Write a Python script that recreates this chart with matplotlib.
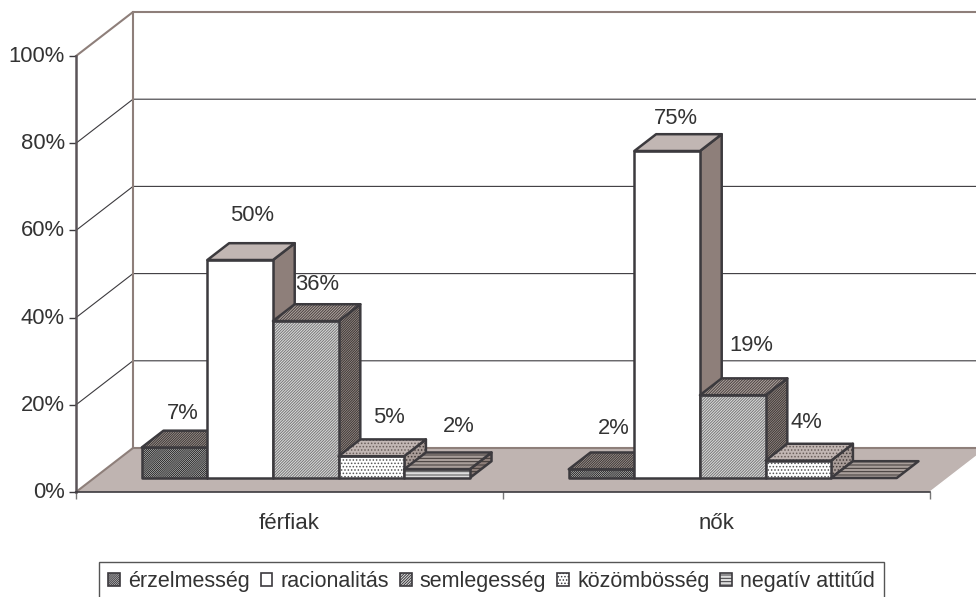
import numpy as np
import matplotlib
matplotlib.use('Agg')
import matplotlib.pyplot as plt
from matplotlib.patches import Patch, Polygon
from matplotlib.transforms import ScaledTranslation

categories = ['férfiak', 'nők']
series = ['érzelmesség', 'racionalitás', 'semlegesség', 'közömbösség', 'negatív attitűd']
values = [[7, 50, 36, 5, 2],
          [2, 75, 19, 4, 0]]
value_labels = [['7%', '50%', '36%', '5%', '2%'],
                ['2%', '75%', '19%', '4%', '']]
y_ticks = [0, 20, 40, 60, 80, 100]

# label nudges in pixels, from centre of the bar's top edge
label_dx = [[8, 12, 11, 18, 22], [12, 9, 19, 8, 0]]
label_dy = [[34, 45, 37, 39, 43], [41, 33, 50, 38, 0]]

dark = '#3c3a3e'
taupe = '#8e7f7a'
floor_col = '#bfb4b1'
text_col = '#333333'

# front, top, side: (face, hatch colour, hatch)
styles = [
    {'front': ('#e8e8e8', '#222222', '/' * 16), 'top': ('#a89e9a', '#3c3634', '/' * 14), 'side': ('#a89e9a', '#3c3634', '/' * 14)},
    {'front': ('white', 'white', None), 'top': ('#c1b6b3', '#c1b6b3', None), 'side': (taupe, taupe, None)},
    {'front': ('#dddddd', '#777777', '/' * 12), 'top': ('#b0a5a1', '#4a4240', '/' * 12), 'side': ('#a09490', '#3c3634', '/' * 14)},
    {'front': ('white', '#555555', '.....'), 'top': ('#c1b6b3', '#6a5f5b', '.....'), 'side': ('#a89c98', '#443c3a', '.....')},
    {'front': ('#dddddd', '#555555', '-----'), 'top': ('#a89e9a', '#3c3634', '-----'), 'side': ('#8e7f7a', '#3c3634', '-----')},
]

plt.rcParams['font.family'] = ['Liberation Sans', 'DejaVu Sans']
plt.rcParams['hatch.linewidth'] = 0.7

W, H = 976, 597
fig = plt.figure(figsize=(W / 100, H / 100), dpi=100)
ax = fig.add_axes([76 / W, 1 - 492 / H, 854 / W, 436 / H])
ax.patch.set_alpha(0)
ax.set_xlim(0, 2)
ax.set_ylim(0, 100)

dx = 57 / 427
dy = 44 / 4.36
bar_w = 65.6 / 427
bar_off = 0.1115
d0, d1 = 0.318, 0.70


def proj(x, y, d):
    return (x + d * dx, y + d * dy)


def face(pts, style, z):
    col, hcol, hatch = style
    ax.add_patch(Polygon(pts, closed=True, facecolor=col, edgecolor='none', zorder=z, clip_on=False))
    if hatch:
        ax.add_patch(Polygon(pts, closed=True, facecolor='none', edgecolor=hcol, hatch=hatch, lw=0, zorder=z, clip_on=False))
    ax.add_patch(Polygon(pts, closed=True, facecolor='none', edgecolor=dark, lw=1.8, joinstyle='round', zorder=z, clip_on=False))


# walls and floor
ax.add_patch(Polygon([(0, 0), (2, 0), proj(2, 0, 1), proj(0, 0, 1)], closed=True,
                     facecolor=floor_col, edgecolor='none', zorder=1, clip_on=False))
for v in y_ticks[1:-1]:
    ax.plot(*zip((0, v), proj(0, v, 1), proj(2, v, 1)), color=dark, lw=0.8, zorder=1, clip_on=False)
ax.plot(*zip((0, 100), proj(0, 100, 1), proj(2, 100, 1)), color=taupe, lw=1.5, zorder=1, clip_on=False)
ax.plot(*zip(proj(0, 100, 1), proj(0, 0, 1), proj(2, 0, 1)), color=taupe, lw=1.5, zorder=1, clip_on=False)
ax.plot(*zip((0, 0), proj(0, 0, 1)), color=taupe, lw=1.5, zorder=1, clip_on=False)
ax.plot(*zip((2, 0), proj(2, 0, 1)), color='white', lw=1.0, zorder=1, clip_on=False)

# bars, left to right so that each one covers the side of the previous one
for c, row in enumerate(values):
    for i, v in enumerate(row):
        x0 = c + bar_off + i * bar_w
        x1 = x0 + bar_w
        z = 3 + c * 10 + i
        st = styles[i]
        if v > 0:
            face([proj(x1, 0, d0), proj(x1, 0, d1), proj(x1, v, d1), proj(x1, v, d0)], st['side'], z)
            face([proj(x0, 0, d0), proj(x1, 0, d0), proj(x1, v, d0), proj(x0, v, d0)], st['front'], z)
        face([proj(x0, v, d0), proj(x1, v, d0), proj(x1, v, d1), proj(x0, v, d1)], st['top'], z)
        if value_labels[c][i]:
            ax.annotate(value_labels[c][i], proj(x0 + bar_w / 2, v, d0),
                        xytext=(label_dx[c][i], label_dy[c][i]), textcoords='offset pixels',
                        ha='center', va='center', fontsize=15.8, color=text_col, zorder=40,
                        annotation_clip=False)

# axes
for s in ['top', 'right']:
    ax.spines[s].set_visible(False)
ax.spines['left'].set_color('#5a5458')
ax.spines['left'].set_linewidth(1.8)
ax.spines['bottom'].set_color(dark)
ax.spines['bottom'].set_linewidth(1.2)
ax.spines['left'].set_zorder(2)
ax.spines['bottom'].set_zorder(2)

ax.set_yticks(y_ticks)
ax.set_yticklabels([f'{v}%' for v in y_ticks], fontsize=15.8, color=text_col)
ax.tick_params(axis='y', length=5, width=1, color=dark, pad=3)
shift = ScaledTranslation(0, 1.5 / 72, fig.dpi_scale_trans)
for lab in ax.get_yticklabels():
    lab.set_transform(lab.get_transform() + shift)

ax.set_xticks(range(len(categories) + 1))
ax.set_xticklabels([])
ax.tick_params(axis='x', which='major', length=5, width=1, color='#777777')
ax.set_xticks([c + 0.5 for c in range(len(categories))], minor=True)
ax.set_xticklabels(categories, minor=True, fontsize=16, color=text_col)
ax.tick_params(axis='x', which='minor', length=0, pad=15)

# legend
handles = [Patch(facecolor=styles[i]['front'][0], edgecolor=dark, hatch=styles[i]['front'][2],
                 lw=1.2, label=series[i]) for i in range(len(series))]
leg = fig.legend(handles=handles, ncol=5, loc='upper left', bbox_to_anchor=(99 / W, 1 - 562 / H),
                 borderaxespad=0, fancybox=False, framealpha=1, edgecolor='#555555',
                 fontsize=15.5, handlelength=0.55, handleheight=0.55, handletextpad=0.38,
                 columnspacing=0.5, borderpad=0.42, labelcolor=text_col)
leg.get_frame().set_linewidth(1.0)

fig.savefig('out.png', dpi=100)
